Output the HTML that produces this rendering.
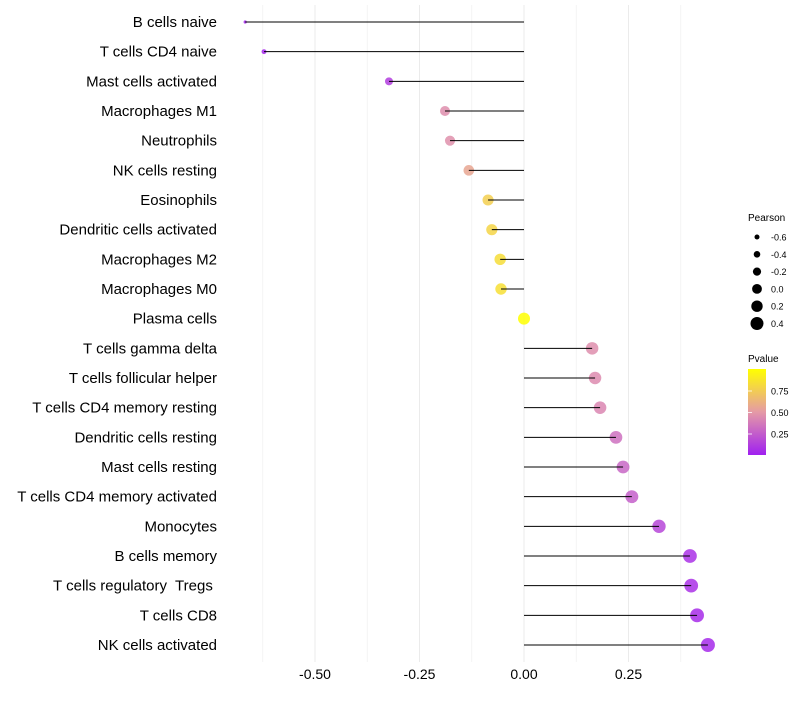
<!DOCTYPE html>
<html><head><meta charset="utf-8"><style>
body{margin:0;background:#fff;font-family:"Liberation Sans",sans-serif}
text{white-space:pre}
</style></head><body>
<svg id="chart" width="800" height="700" xmlns="http://www.w3.org/2000/svg">
<defs><linearGradient id="pg" x1="0" y1="1" x2="0" y2="0">
<stop offset="0" stop-color="#a020f0"/><stop offset="0.5" stop-color="#e59aa6"/><stop offset="1" stop-color="#ffff00"/>
</linearGradient></defs>
<g id="grid"></g><g id="marks"></g><g id="ylab"></g><g id="xlab"></g>
<g id="legend">
<text x="748" y="221" font-size="10" fill="#000">Pearson</text>
<g id="sizeleg"></g>
<text x="748" y="362" font-size="10" fill="#000">Pvalue</text>
<rect x="748" y="369" width="18" height="86" fill="url(#pg)"/>
<g id="cbticks"></g>
</g>
</svg>
<script>
const categories=["B cells naive","T cells CD4 naive","Mast cells activated","Macrophages M1","Neutrophils","NK cells resting","Eosinophils","Dendritic cells activated","Macrophages M2","Macrophages M0","Plasma cells","T cells gamma delta","T cells follicular helper","T cells CD4 memory resting","Dendritic cells resting","Mast cells resting","T cells CD4 memory activated","Monocytes","B cells memory","T cells regulatory  Tregs ","T cells CD8","NK cells activated"];
const pearson=[-0.667,-0.622,-0.323,-0.189,-0.177,-0.132,-0.086,-0.077,-0.057,-0.055,0.0,0.163,0.170,0.182,0.220,0.237,0.258,0.323,0.397,0.400,0.414,0.440];
const pvalue=[0.02,0.03,0.12,0.45,0.46,0.56,0.76,0.79,0.83,0.84,1.0,0.45,0.44,0.42,0.33,0.29,0.26,0.16,0.07,0.07,0.05,0.04];
const xTicks=[-0.5,-0.25,0,0.25];
const xTickLabels=["-0.50","-0.25","0.00","0.25"];
const xMinor=[-0.625,-0.375,-0.125,0.125,0.375];
const sizeLegendVals=[-0.6,-0.4,-0.2,0.0,0.2,0.4];
const sizeLegendLabels=["-0.6","-0.4","-0.2","0.0","0.2","0.4"];
const cbVals=[0.25,0.5,0.75];
const cbLabels=["0.25","0.50","0.75"];

const NS="http://www.w3.org/2000/svg";
const x=v=>524+v*418;
const y=i=>22+i*(623/21);
// size scale (piecewise) for data points
const sk=[[-0.7,1.4],[-0.667,1.6],[-0.62,2.5],[-0.32,4],[-0.19,5],[0,6],[0.2,6.3],[0.44,7]];
function r(v){for(let k=1;k<sk.length;k++){if(v<=sk[k][0]||k==sk.length-1){const a=sk[k-1],b=sk[k];return a[1]+(b[1]-a[1])*(v-a[0])/(b[0]-a[0]);}}}
const rLeg=v=>2.5+(v+0.6)*4;
const cy=p=>455.5-p*86;
function hex(h){return [1,3,5].map(k=>parseInt(h.substr(k,2),16));}
function col(p){const s=[[0,hex("#a020f0")],[0.5,hex("#e59aa6")],[1,hex("#ffff00")]];
 let a=s[0],b=s[1]; if(p>0.5){a=s[1];b=s[2];}
 const t=(p-a[0])/(b[0]-a[0]);
 return "rgb("+a[1].map((c,k)=>Math.round(c+(b[1][k]-c)*t)).join(",")+")";}
function mk(tag,attrs,parent){const e=document.createElementNS(NS,tag);for(const k in attrs)e.setAttribute(k,attrs[k]);parent.appendChild(e);return e;}
const grid=document.getElementById('grid'),marks=document.getElementById('marks'),ylab=document.getElementById('ylab'),xlab=document.getElementById('xlab');
xMinor.forEach(v=>{const l=mk('line',{x1:x(v),x2:x(v),y1:5,y2:662,stroke:'#f2f2f2','stroke-width':0.8},grid);

});
xTicks.forEach((v,i)=>{const l=mk('line',{x1:x(v),x2:x(v),y1:5,y2:662,stroke:'#ebebeb','stroke-width':1},grid);


const t=mk('text',{x:x(v),y:679,'font-size':14,'text-anchor':'middle',fill:'#000'},xlab);t.textContent=xTickLabels[i];

});
categories.forEach((c,i)=>{
 const t=mk('text',{x:217,y:y(i)+5,'font-size':15,'text-anchor':'end',fill:'#000'},ylab);t.textContent=c;
 
 
 const dot=mk('circle',{cx:x(pearson[i]),cy:y(i),r:r(pearson[i]),fill:col(pvalue[i]),'fill-opacity':0.85},marks);
 
 
 const seg=mk('line',{x1:x(0),x2:x(pearson[i]),y1:y(i),y2:y(i),stroke:'#000','stroke-width':1},marks);
 
 
});
const sl=document.getElementById('sizeleg');
sizeLegendVals.forEach((v,i)=>{const yy=237+i*17.3;
 const c=mk('circle',{cx:757,cy:yy,r:rLeg(v),fill:'#000'},sl);
 
 
 const t=mk('text',{x:771,y:yy+3.5,'font-size':9,fill:'#000'},sl);t.textContent=sizeLegendLabels[i];
 
 });
const cb=document.getElementById('cbticks');
cbVals.forEach((v,i)=>{
 const l=mk('line',{x1:748,x2:752,y1:cy(v),y2:cy(v),stroke:'#fff','stroke-width':0.8},cb);
 
 
 const t=mk('text',{x:771,y:cy(v)+3.5,'font-size':9,fill:'#000'},cb);t.textContent=cbLabels[i];
 
 });
</script>
</body></html>
